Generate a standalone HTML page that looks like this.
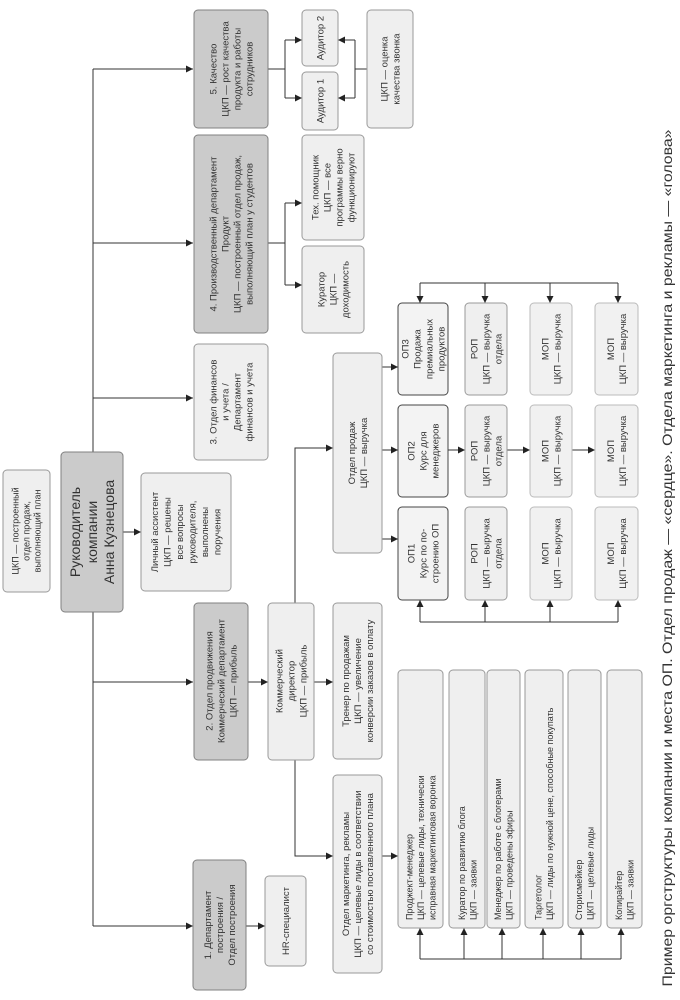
<!DOCTYPE html>
<html><head><meta charset="utf-8"><style>
html,body{margin:0;padding:0;background:#fff;}
svg{display:block;}
text{font-family:"Liberation Sans","Noto Sans CJK SC",sans-serif;fill:#333;}
.d{fill:#cbcbcb;stroke:#808080;stroke-width:1;}
.l{fill:#efefef;stroke:#9a9a9a;stroke-width:1;}
.o{fill:#f3f3f3;stroke:#444;stroke-width:1;}
.m{fill:#f1f1f1;stroke:#bbb;stroke-width:1;}
.ln{stroke:#333;stroke-width:1;fill:none;}
</style></head><body>
<svg width="680" height="1000" viewBox="0 0 680 1000" xmlns="http://www.w3.org/2000/svg">
<defs><marker id="a" viewBox="0 0 8 8" refX="8" refY="4" markerWidth="7" markerHeight="7" markerUnits="userSpaceOnUse" orient="auto"><path d="M0 0L8 4L0 8z" fill="#222"/></marker></defs>

<!-- connectors -->
<g class="ln">
<path d="M93 69V926"/>
<path d="M93 69H193" marker-end="url(#a)"/>
<path d="M93 243H193" marker-end="url(#a)"/>
<path d="M93 398H193" marker-end="url(#a)"/>
<path d="M93 682H193" marker-end="url(#a)"/>
<path d="M93 926H193" marker-end="url(#a)"/>
<path d="M123 532H141" marker-end="url(#a)"/>
<path d="M246 926H265" marker-end="url(#a)"/>
<path d="M248 682H268" marker-end="url(#a)"/>
<path d="M295 603V448H333" marker-end="url(#a)"/>
<path d="M295 760V856H333" marker-end="url(#a)"/>
<path d="M314 682H333" marker-end="url(#a)"/>
<path d="M382 367H398" marker-end="url(#a)"/>
<path d="M382 450H398" marker-end="url(#a)"/>
<path d="M382 539H398" marker-end="url(#a)"/>
<path d="M448 450H465" marker-end="url(#a)"/>
<path d="M507 450H530" marker-end="url(#a)"/>
<path d="M572 450H595" marker-end="url(#a)"/>
<path d="M420 283H618"/>
<path d="M420 283V303" marker-end="url(#a)"/>
<path d="M485 283V303" marker-end="url(#a)"/>
<path d="M550 283V303" marker-end="url(#a)"/>
<path d="M618 283V303" marker-end="url(#a)"/>
<path d="M420 622H618"/>
<path d="M420 622V600" marker-end="url(#a)"/>
<path d="M485 622V600" marker-end="url(#a)"/>
<path d="M550 622V600" marker-end="url(#a)"/>
<path d="M618 622V600" marker-end="url(#a)"/>
<path d="M382 856H398" marker-end="url(#a)"/>
<path d="M420 959H621"/>
<path d="M420 959V928" marker-end="url(#a)"/>
<path d="M464 959V928" marker-end="url(#a)"/>
<path d="M502 959V928" marker-end="url(#a)"/>
<path d="M543 959V928" marker-end="url(#a)"/>
<path d="M581 959V928" marker-end="url(#a)"/>
<path d="M621 959V928" marker-end="url(#a)"/>
<path d="M268 69H285M285 40V98"/>
<path d="M285 40H302" marker-end="url(#a)"/>
<path d="M285 98H302" marker-end="url(#a)"/>
<path d="M268 243H285M285 203V285"/>
<path d="M285 203H302" marker-end="url(#a)"/>
<path d="M285 285H302" marker-end="url(#a)"/>
<path d="M367 69H355M355 40V98"/>
<path d="M355 40H338" marker-end="url(#a)"/>
<path d="M355 98H338" marker-end="url(#a)"/>
</g>

<!-- boxes -->
<rect class="l" x="3" y="470" width="47" height="122" rx="4"/>
<rect class="d" x="61" y="452" width="62" height="160" rx="4"/>
<rect class="l" x="141" y="473" width="90" height="118" rx="4"/>
<rect class="d" x="194" y="10" width="74" height="118" rx="4"/>
<rect class="d" x="194" y="135" width="74" height="198" rx="4"/>
<rect class="l" x="194" y="344" width="74" height="116" rx="4"/>
<rect class="d" x="194" y="603" width="54" height="157" rx="4"/>
<rect class="d" x="193" y="860" width="53" height="130" rx="4"/>
<rect class="l" x="265" y="876" width="41" height="90" rx="4"/>
<rect class="l" x="268" y="603" width="46" height="157" rx="4"/>
<rect class="l" x="333" y="353" width="49" height="200" rx="4"/>
<rect class="l" x="333" y="603" width="49" height="156" rx="4"/>
<rect class="l" x="333" y="775" width="49" height="198" rx="4"/>
<rect class="o" x="398" y="507" width="50" height="93" rx="4"/>
<rect class="o" x="398" y="405" width="50" height="92" rx="4"/>
<rect class="o" x="398" y="303" width="50" height="92" rx="4"/>
<rect class="l" x="465" y="507" width="42" height="93" rx="4"/>
<rect class="l" x="465" y="405" width="42" height="92" rx="4"/>
<rect class="l" x="465" y="303" width="42" height="92" rx="4"/>
<rect class="m" x="530" y="507" width="42" height="93" rx="4"/>
<rect class="m" x="530" y="405" width="42" height="92" rx="4"/>
<rect class="m" x="530" y="303" width="42" height="92" rx="4"/>
<rect class="m" x="595" y="507" width="43" height="93" rx="4"/>
<rect class="m" x="595" y="405" width="43" height="92" rx="4"/>
<rect class="m" x="595" y="303" width="43" height="92" rx="4"/>
<rect class="l" x="302" y="10" width="36" height="56" rx="4"/>
<rect class="l" x="302" y="72" width="36" height="58" rx="4"/>
<rect class="l" x="302" y="135" width="62" height="105" rx="4"/>
<rect class="l" x="302" y="246" width="62" height="87" rx="4"/>
<rect class="l" x="367" y="10" width="46" height="118" rx="4"/>
<rect class="l" x="398" y="670" width="45" height="258" rx="4"/>
<rect class="l" x="449" y="670" width="36" height="258" rx="4"/>
<rect class="l" x="487" y="670" width="33" height="258" rx="4"/>
<rect class="l" x="525" y="670" width="38" height="258" rx="4"/>
<rect class="l" x="568" y="670" width="33" height="258" rx="4"/>
<rect class="l" x="607" y="670" width="35" height="258" rx="4"/>

<!-- texts -->
<g text-anchor="middle" font-size="9">
<text transform="translate(26.5,531) rotate(-90)"><tspan x="0" y="-7.8">ЦКП — построенный</tspan><tspan x="0" dy="11">отдел продаж,</tspan><tspan x="0" dy="11">выполняющий план</tspan></text>
</g>
<text text-anchor="middle" font-size="14" transform="translate(92,532) rotate(-90)"><tspan x="0" y="-12.1">Руководитель</tspan><tspan x="0" dy="17">компании</tspan><tspan x="0" dy="17">Анна Кузнецова</tspan></text>
<g text-anchor="middle" font-size="9.5">
<text transform="translate(186,532) rotate(-90)"><tspan x="0" y="-27.9">Личный ассистент</tspan><tspan x="0" dy="12.5">ЦКП — решены</tspan><tspan x="0" dy="12.5">все вопросы</tspan><tspan x="0" dy="12.5">руководителя,</tspan><tspan x="0" dy="12.5">выполнены</tspan><tspan x="0" dy="12.5">поручения</tspan></text>
<text transform="translate(231,69) rotate(-90)"><tspan x="0" y="-14.7">5. Качество</tspan><tspan x="0" dy="12">ЦКП — рост качества</tspan><tspan x="0" dy="12">продукта и работы</tspan><tspan x="0" dy="12">сотрудников</tspan></text>
<text transform="translate(231,234) rotate(-90)"><tspan x="0" y="-14.7">4. Производственный департамент</tspan><tspan x="0" dy="12">Продукт</tspan><tspan x="0" dy="12">ЦКП — построенный отдел продаж,</tspan><tspan x="0" dy="12">выполняющий план у студентов</tspan></text>
<text transform="translate(231,402) rotate(-90)"><tspan x="0" y="-14.7">3. Отдел финансов</tspan><tspan x="0" dy="12">и учета /</tspan><tspan x="0" dy="12">Департамент</tspan><tspan x="0" dy="12">финансов и учета</tspan></text>
<text transform="translate(221,681) rotate(-90)"><tspan x="0" y="-8.7">2. Отдел продвижения</tspan><tspan x="0" dy="12">Коммерческий департамент</tspan><tspan x="0" dy="12">ЦКП — прибыль</tspan></text>
<text transform="translate(219.5,925) rotate(-90)"><tspan x="0" y="-8.7">1. Департамент</tspan><tspan x="0" dy="12">построения /</tspan><tspan x="0" dy="12">Отдел построения</tspan></text>
<text transform="translate(285.5,921) rotate(-90)"><tspan x="0" y="3.3">HR-специалист</tspan></text>
<text transform="translate(291,681) rotate(-90)"><tspan x="0" y="-8.7">Коммерческий</tspan><tspan x="0" dy="12">директор</tspan><tspan x="0" dy="12">ЦКП — прибыль</tspan></text>
<text transform="translate(357.5,453) rotate(-90)"><tspan x="0" y="-2.7">Отдел продаж</tspan><tspan x="0" dy="12">ЦКП — выручка</tspan></text>
<text transform="translate(357.5,681) rotate(-90)"><tspan x="0" y="-8.7">Тренер по продажам</tspan><tspan x="0" dy="12">ЦКП — увеличение</tspan><tspan x="0" dy="12">конверсии заказов в оплату</tspan></text>
<text transform="translate(357.5,874) rotate(-90)"><tspan x="0" y="-8.7">Отдел маркетинга, рекламы</tspan><tspan x="0" dy="12">ЦКП — целевые лиды в соответствии</tspan><tspan x="0" dy="12">со стоимостью поставленного плана</tspan></text>
<text transform="translate(423,553.5) rotate(-90)"><tspan x="0" y="-8.7">ОП1</tspan><tspan x="0" dy="12">Курс по по-</tspan><tspan x="0" dy="12">строению ОП</tspan></text>
<text transform="translate(423,451) rotate(-90)"><tspan x="0" y="-8.7">ОП2</tspan><tspan x="0" dy="12">Курс для</tspan><tspan x="0" dy="12">менеджеров</tspan></text>
<text transform="translate(423,349) rotate(-90)"><tspan x="0" y="-14.7">ОП3</tspan><tspan x="0" dy="12">Продажа</tspan><tspan x="0" dy="12">премиальных</tspan><tspan x="0" dy="12">продуктов</tspan></text>
<text transform="translate(486,553.5) rotate(-90)"><tspan x="0" y="-8.7">РОП</tspan><tspan x="0" dy="12">ЦКП — выручка</tspan><tspan x="0" dy="12">отдела</tspan></text>
<text transform="translate(486,451) rotate(-90)"><tspan x="0" y="-8.7">РОП</tspan><tspan x="0" dy="12">ЦКП — выручка</tspan><tspan x="0" dy="12">отдела</tspan></text>
<text transform="translate(486,349) rotate(-90)"><tspan x="0" y="-8.7">РОП</tspan><tspan x="0" dy="12">ЦКП — выручка</tspan><tspan x="0" dy="12">отдела</tspan></text>
<text transform="translate(551,553.5) rotate(-90)"><tspan x="0" y="-2.7">МОП</tspan><tspan x="0" dy="12">ЦКП — выручка</tspan></text>
<text transform="translate(551,451) rotate(-90)"><tspan x="0" y="-2.7">МОП</tspan><tspan x="0" dy="12">ЦКП — выручка</tspan></text>
<text transform="translate(551,349) rotate(-90)"><tspan x="0" y="-2.7">МОП</tspan><tspan x="0" dy="12">ЦКП — выручка</tspan></text>
<text transform="translate(616.5,553.5) rotate(-90)"><tspan x="0" y="-2.7">МОП</tspan><tspan x="0" dy="12">ЦКП — выручка</tspan></text>
<text transform="translate(616.5,451) rotate(-90)"><tspan x="0" y="-2.7">МОП</tspan><tspan x="0" dy="12">ЦКП — выручка</tspan></text>
<text transform="translate(616.5,349) rotate(-90)"><tspan x="0" y="-2.7">МОП</tspan><tspan x="0" dy="12">ЦКП — выручка</tspan></text>
<text transform="translate(320,38) rotate(-90)"><tspan x="0" y="3.3">Аудитор 2</tspan></text>
<text transform="translate(320,101) rotate(-90)"><tspan x="0" y="3.3">Аудитор 1</tspan></text>
<text transform="translate(333,187.5) rotate(-90)"><tspan x="0" y="-14.7">Тех. помощник</tspan><tspan x="0" dy="12">ЦКП — все</tspan><tspan x="0" dy="12">программы верно</tspan><tspan x="0" dy="12">функционируют</tspan></text>
<text transform="translate(333,289.5) rotate(-90)"><tspan x="0" y="-8.7">Куратор</tspan><tspan x="0" dy="12">ЦКП —</tspan><tspan x="0" dy="12">доходимость</tspan></text>
<text transform="translate(390,69) rotate(-90)"><tspan x="0" y="-2.7">ЦКП — оценка</tspan><tspan x="0" dy="12">качества звонка</tspan></text>
</g>
<g font-size="9">
<text transform="translate(421,799) rotate(-90)"><tspan x="-121" y="-8.3">Проджект-менеджер</tspan><tspan x="-121" dy="11.5">ЦКП — целевые лиды, технически</tspan><tspan x="-121" dy="11.5">исправная маркетинговая воронка</tspan></text>
<text transform="translate(467.5,799) rotate(-90)"><tspan x="-121" y="-2.6">Куратор по развитию блога</tspan><tspan x="-121" dy="11.5">ЦКП — заявки</tspan></text>
<text transform="translate(503.5,799) rotate(-90)"><tspan x="-121" y="-2.6">Менеджер по работе с блогерами</tspan><tspan x="-121" dy="11.5">ЦКП — проведены эфиры</tspan></text>
<text transform="translate(544,799) rotate(-90)"><tspan x="-121" y="-2.6">Таргетолог</tspan><tspan x="-121" dy="11.5">ЦКП — лиды по нужной цене, способные покупать</tspan></text>
<text transform="translate(584.5,799) rotate(-90)"><tspan x="-121" y="-2.6">Сторисмейкер</tspan><tspan x="-121" dy="11.5">ЦКП — целевые лиды</tspan></text>
<text transform="translate(624.5,799) rotate(-90)"><tspan x="-121" y="-2.6">Копирайтер</tspan><tspan x="-121" dy="11.5">ЦКП — заявки</tspan></text>
</g>
<text text-anchor="middle" font-size="14" transform="translate(667,558) rotate(-90)" y="5" textLength="857" lengthAdjust="spacingAndGlyphs">Пример оргструктуры компании и места ОП. Отдел продаж — «сердце». Отдела маркетинга и рекламы — «голова»</text>
</svg>
</body></html>
